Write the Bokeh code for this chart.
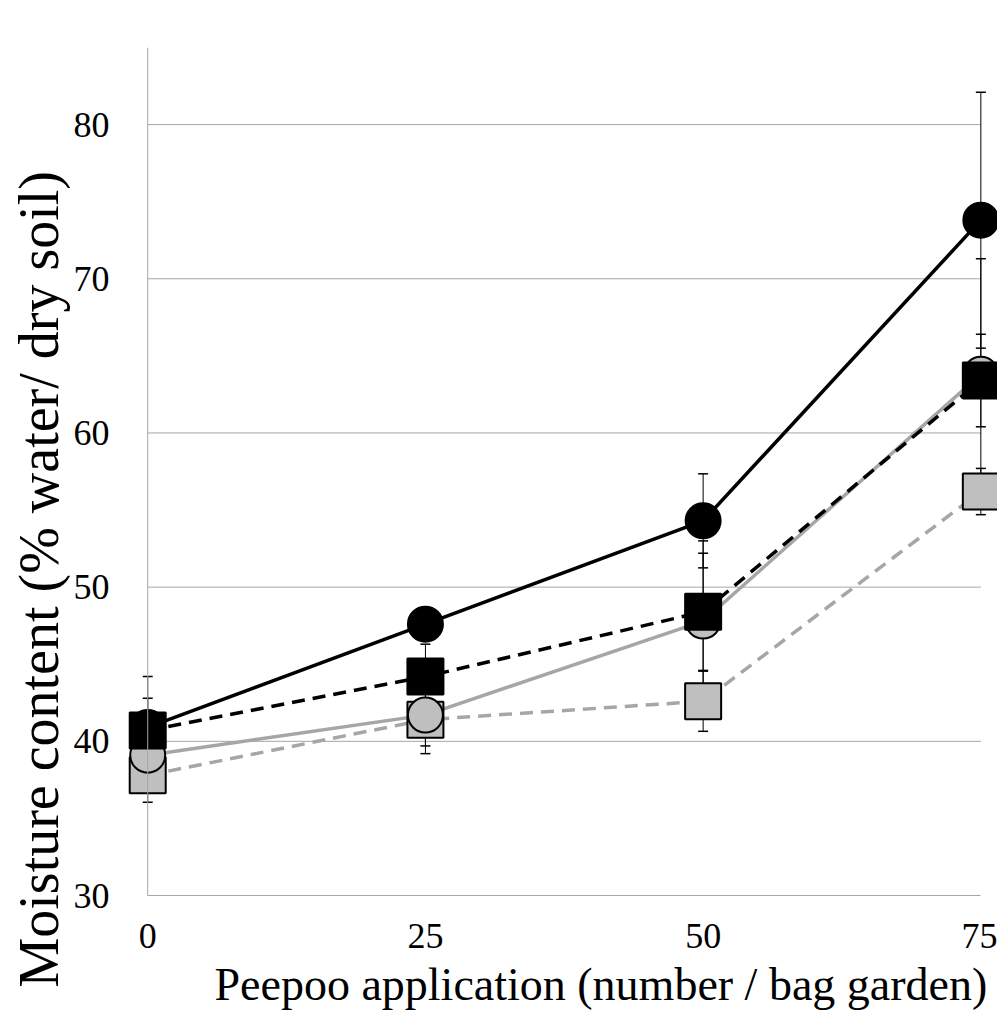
from bokeh.plotting import figure
from bokeh.models import ColumnDataSource, Whisker, TeeHead, Span, FixedTicker, Range1d, Title
from bokeh.embed import file_html
from bokeh.resources import INLINE

# ---- data ----
x_vals = [0, 25, 50, 75]
x_ticks = [0, 25, 50, 75]
y_ticks = [30, 40, 50, 60, 70, 80]

black_circle = [40.9, 47.6, 54.3, 73.8]
black_circle_err = [3.3, 1.0, 3.05, 8.3]
black_square = [40.7, 44.2, 48.4, 63.4]
black_square_err = [2.1, 2.1, 3.8, 3.0]
gray_circle = [39.1, 41.7, 47.8, 63.8]
gray_circle_err = [1.2, 2.0, 5.2, 7.5]
gray_square = [37.8, 41.4, 42.6, 56.2]
gray_square_err = [1.75, 2.2, 1.95, 1.5]

x_label = "Peepoo application (number / bag garden)"
y_label = "Moisture content (% water/ dry soil)"

FONT = "Liberation Serif"
GRID = "#a6a6a6"
GRAY_LINE = "#a6a6a6"
GRAY_FILL = "#bfbfbf"

p = figure(
    frame_width=872, frame_height=848,
    min_border_left=125, min_border_top=47, min_border_right=0, min_border_bottom=121,
    x_range=Range1d(-2, 76.5), y_range=Range1d(30, 85),
    output_backend="svg", toolbar_location=None,
)
p.outline_line_color = None
p.xgrid.visible = False
p.ygrid.visible = False

# axes
p.xaxis.ticker = FixedTicker(ticks=x_ticks)
p.yaxis.ticker = FixedTicker(ticks=y_ticks)
p.xaxis.bounds = (x_ticks[0], x_ticks[-1])
for ax in (p.xaxis, p.yaxis):
    ax.major_tick_line_color = None
    ax.minor_tick_line_color = None
    ax.major_label_text_font = FONT
    ax.major_label_text_font_size = "36px"
    ax.major_label_text_color = "black"
p.xaxis.axis_line_color = GRID
p.xaxis.axis_line_width = 1
p.yaxis.axis_line_color = None
p.xaxis.major_label_standoff = 22
p.yaxis.major_label_standoff = 10

# axis titles as titles (allows offset like the original)
xt = Title(text=x_label, align="left", offset=89, text_font=FONT,
           text_font_size="46px", text_font_style="normal", text_color="black",
           standoff=12)
p.add_layout(xt, "below")
yt = Title(text=y_label, align="left", offset=-92, text_font=FONT,
           text_font_size="56px", text_font_style="normal", text_color="black",
           standoff=2)
p.add_layout(yt, "left")

# y-axis line at x = 0
p.add_layout(Span(location=x_ticks[0], dimension="height", line_color=GRID, line_width=1))

# horizontal gridlines between x=0 and x=75
gl = y_ticks[1:]
p.segment(x0=[x_ticks[0]] * len(gl), x1=[x_ticks[-1]] * len(gl), y0=gl, y1=gl,
          line_color=GRID, line_width=1, level="underlay")

series = [
    # values, errors, line color, dash, marker, fill
    (gray_square, gray_square_err, GRAY_LINE, "13 8", "square", GRAY_FILL),
    (gray_circle, gray_circle_err, GRAY_LINE, "solid", "circle", GRAY_FILL),
    (black_circle, black_circle_err, "black", "solid", "circle", "black"),
    (black_square, black_square_err, "black", "13 8", "square", "black"),
]

# error bars
for vals, errs, lc, dash, mk, fill in series:
    src = ColumnDataSource(dict(
        x=x_vals,
        upper=[v + e for v, e in zip(vals, errs)],
        lower=[v - e for v, e in zip(vals, errs)],
    ))
    w = Whisker(base="x", upper="upper", lower="lower", source=src,
                line_color="black", line_width=1,
                upper_head=TeeHead(size=10, line_color="black", line_width=1.5),
                lower_head=TeeHead(size=10, line_color="black", line_width=1.5),
                level="underlay")
    p.add_layout(w)

# lines
for vals, errs, lc, dash, mk, fill in series:
    p.line(x_vals, vals, line_color=lc, line_width=3.5, line_dash=dash)

# markers
for vals, errs, lc, dash, mk, fill in series:
    if mk == "circle":
        p.scatter(x_vals, vals, marker="circle", size=35, fill_color=fill,
                  line_color="black", line_width=2)
    else:
        p.scatter(x_vals, vals, marker="square", size=36, fill_color=fill,
                  line_color="black", line_width=2)

open("out.html", "w").write(file_html(p, INLINE))
